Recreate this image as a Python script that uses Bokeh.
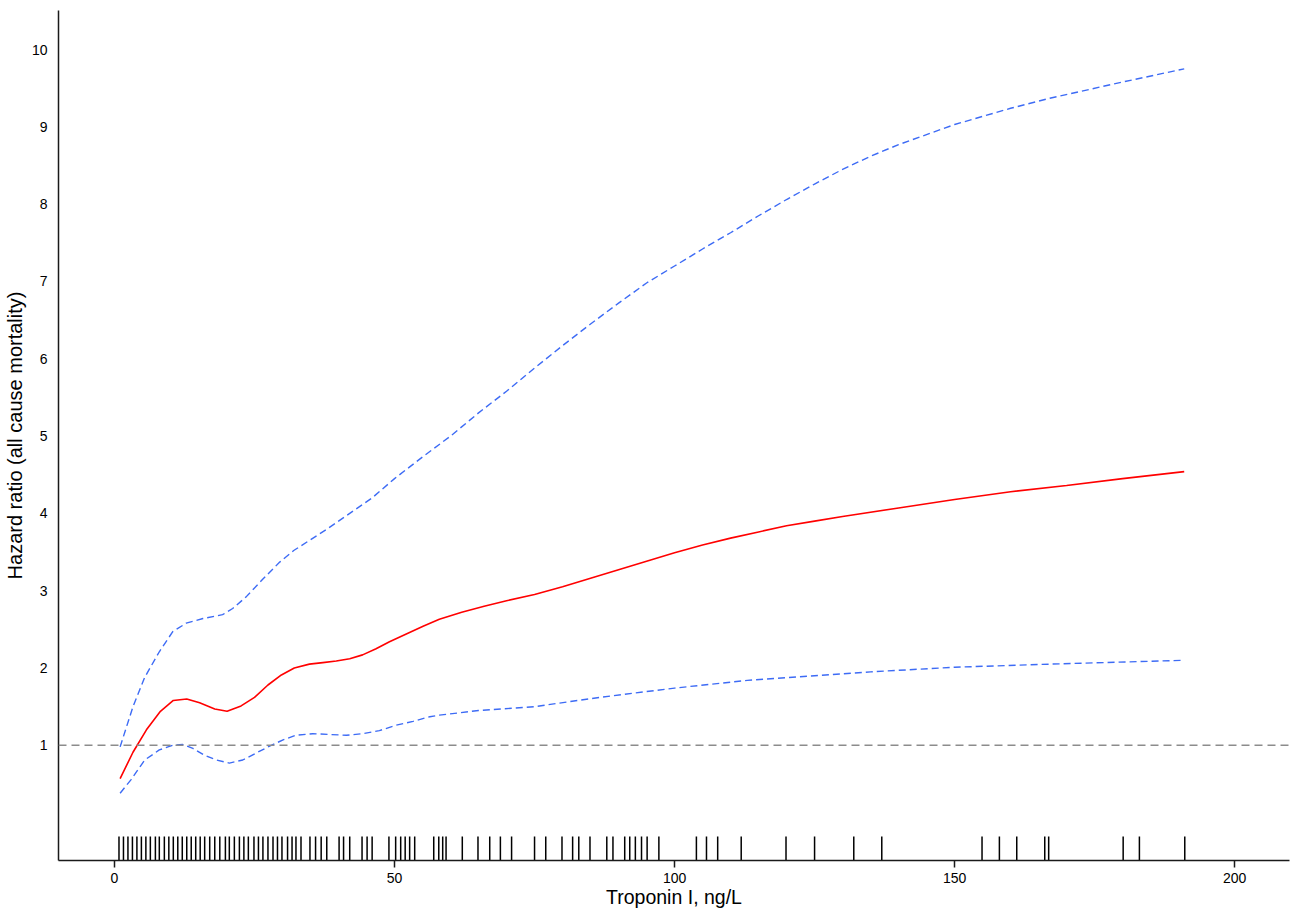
from bokeh.plotting import figure
from bokeh.models import Range1d, Span, FixedTicker
from bokeh.embed import file_html
from bokeh.resources import INLINE

# ---- data ----
x_curve = [1, 3.3, 5.7, 8.2, 10.5, 12.9, 15.2, 17.9, 20.1, 22.6, 25, 27.4, 29.8, 32.1,
           34.8, 37.2, 39.6, 42, 44.3, 46.7, 49.1, 52.1, 55.1, 58, 62, 66, 70, 75, 80,
           85, 90, 95, 100, 105, 110, 115, 120, 125, 130, 140, 150, 160, 170, 180, 191]
hr = [0.57, 0.91, 1.20, 1.44, 1.58, 1.60, 1.55, 1.47, 1.44, 1.51, 1.62, 1.78, 1.91, 2.00,
      2.05, 2.07, 2.09, 2.12, 2.17, 2.25, 2.34, 2.44, 2.54, 2.63, 2.72, 2.80, 2.87, 2.95, 3.05,
      3.16, 3.27, 3.38, 3.49, 3.59, 3.68, 3.76, 3.84, 3.90, 3.96, 4.07, 4.18, 4.28, 4.36, 4.45, 4.54]

x_upper = [1, 3.3, 5.4, 8.0, 10.4, 12.8, 15.8, 19.3, 21.1, 23.5, 26.5, 29.5, 32, 34.8, 38,
           42, 46, 50, 55, 60, 65, 70, 75, 80, 85, 90, 95, 100, 105, 110, 115, 120, 125,
           130, 135, 140, 150, 160, 167, 180, 191]
upper = [0.98, 1.50, 1.88, 2.21, 2.47, 2.58, 2.64, 2.69, 2.77, 2.92, 3.15, 3.37, 3.52, 3.65, 3.80,
         4.00, 4.20, 4.45, 4.73, 5.00, 5.30, 5.58, 5.88, 6.17, 6.45, 6.72, 6.98, 7.20, 7.42, 7.63,
         7.85, 8.06, 8.26, 8.45, 8.62, 8.77, 9.03, 9.24, 9.37, 9.58, 9.75]

x_lower = [1, 3.0, 5.4, 8.0, 10.4, 12.2, 14.0, 16.1, 18.2, 20.5, 22.9, 25.3, 27.7, 30.1, 32.4,
           35.4, 38.4, 41.4, 44.3, 47.3, 50.3, 53.3, 56.3, 58, 65, 75, 86.6, 100, 113, 125,
           135, 150, 167, 191]
lower = [0.38, 0.56, 0.81, 0.94, 1.00, 1.01, 0.96, 0.87, 0.81, 0.77, 0.81, 0.90, 0.99, 1.07, 1.13,
         1.15, 1.14, 1.13, 1.15, 1.19, 1.26, 1.31, 1.37, 1.39, 1.45, 1.50, 1.62, 1.74, 1.84, 1.90,
         1.95, 2.01, 2.05, 2.10]

rug = [0.8, 1.6, 2.4, 3.2, 4.0, 4.8, 5.6, 6.4, 7.3, 8.0, 8.9, 9.7, 10.5, 11.3, 12.1, 12.9, 13.7,
       14.5, 15.3, 16.1, 17.0, 17.9, 18.8, 19.8, 20.5, 21.4, 22.3, 23.1, 23.9, 24.9, 25.7, 26.5,
       27.4, 28.3, 29.1, 29.9, 30.9, 31.7, 32.4, 33.3, 34.9, 35.9, 36.9, 37.9, 40.1, 40.9, 42.0,
       44.2, 45.1, 46.0, 49.0, 50.2, 51.1, 51.9, 52.7, 53.6, 57.0, 57.9, 58.6, 59.2, 62.1, 64.9,
       67.0, 68.9, 70.9, 75.0, 77.0, 79.9, 81.8, 82.9, 84.9, 87.9, 89.0, 91.1, 92.0, 93.0, 94.1,
       95.1, 97.2, 103.9, 105.7, 107.7, 111.9, 119.9, 125.0, 132.0, 137.0, 154.9, 158.0, 161.1,
       166.1, 166.8, 180.1, 183.0, 191.1]

x_ticks = [0, 50, 100, 150, 200]
y_ticks = [1, 2, 3, 4, 5, 6, 7, 8, 9, 10]
ref_hr = 1

FONT = "Liberation Sans"

p = figure(frame_width=1231, frame_height=850,
           min_border_left=50, min_border_right=3, min_border_top=10, min_border_bottom=47,
           x_range=Range1d(-10, 209.8), y_range=Range1d(-0.49, 10.505),
           output_backend="svg", toolbar_location=None)

p.outline_line_color = None
p.xgrid.visible = False
p.ygrid.visible = False
p.background_fill_color = "white"
p.border_fill_color = "white"

# reference line
p.add_layout(Span(location=ref_hr, dimension="width", line_color="#8c8c8c",
                  line_width=1.6, line_dash="8 5"))

# rug
rug_bottom = -0.49
rug_top = -0.18
p.segment(x0=rug, x1=rug, y0=[rug_bottom] * len(rug), y1=[rug_top] * len(rug),
          line_color="black", line_width=1.5)

# confidence bands
p.line(x_upper, upper, line_color="#3d6bf5", line_width=1.4, line_dash="7 4")
p.line(x_lower, lower, line_color="#3d6bf5", line_width=1.4, line_dash="7 4")
# estimate
p.line(x_curve, hr, line_color="#ff0000", line_width=1.6)

# axes
for ax in (p.xaxis[0], p.yaxis[0]):
    ax.axis_line_color = "#1a1a1a"
    ax.axis_line_width = 1.5
    ax.major_tick_line_color = "#1a1a1a"
    ax.major_tick_line_width = 1.5
    ax.minor_tick_line_color = None
    ax.major_label_text_font = FONT
    ax.major_label_text_font_size = "14px"
    ax.major_label_text_color = "black"
    ax.axis_label_text_font = FONT
    ax.axis_label_text_font_style = "normal"
    ax.axis_label_text_color = "black"

p.xaxis.ticker = FixedTicker(ticks=x_ticks)
p.xaxis.major_tick_out = 7
p.xaxis.major_tick_in = 0
p.xaxis.major_label_standoff = 5
p.xaxis.axis_label = "Troponin I, ng/L"
p.xaxis.axis_label_standoff = 0
p.xaxis.axis_label_text_font_size = "19.5px"

p.yaxis.ticker = FixedTicker(ticks=y_ticks)
p.yaxis.major_tick_out = 0
p.yaxis.major_tick_in = 0
p.yaxis.major_label_standoff = 11
p.yaxis.axis_label = "Hazard ratio (all cause mortality)"
p.yaxis.axis_label_standoff = 3
p.yaxis.axis_label_text_font_size = "20px"

open("out.html", "w").write(file_html(p, INLINE))
